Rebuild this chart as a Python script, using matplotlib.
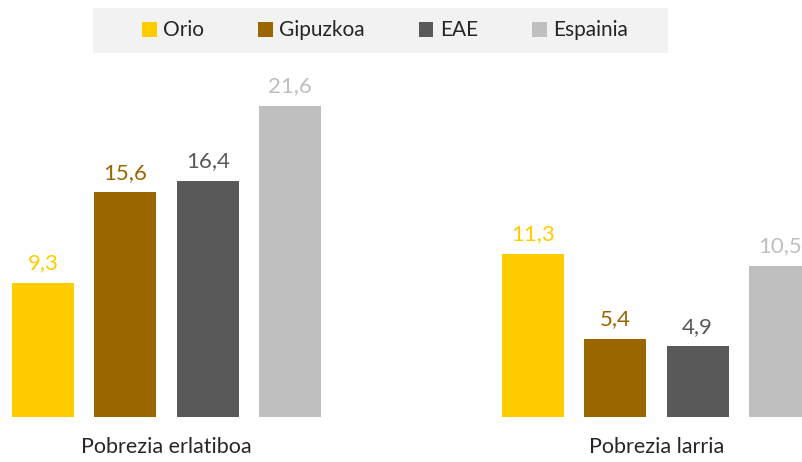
import matplotlib.pyplot as plt
import numpy as np
from matplotlib.patches import Rectangle

categories = ["Pobrezia erlatiboa", "Pobrezia larria"]
series = ["Orio", "Gipuzkoa", "EAE", "Espainia"]
orio = [9.3, 11.3]
gipuzkoa = [15.6, 5.4]
eae = [16.4, 4.9]
espainia = [21.6, 10.5]
colors = ["#FFCC00", "#996600", "#595959", "#BFBFBF"]

plt.rcParams['font.family'] = ['Lato', 'DejaVu Sans']

fig = plt.figure(figsize=(8.03, 4.62), dpi=100)
ax = fig.add_axes([0, 45 / 462, 1, 417 / 462])

x = np.arange(len(categories))
step = 0.168
width = 0.1265
values = [orio, gipuzkoa, eae, espainia]
for i, (name, vals, c) in enumerate(zip(series, values, colors)):
    pos = x + (i - 1.5) * step
    bars = ax.bar(pos, vals, width, color=c, label=name)
    for b, v in zip(bars, vals):
        ax.annotate(f"{v:.1f}".replace(".", ","),
                    (b.get_x() + b.get_width() / 2, v),
                    xytext=(0, 7), textcoords="offset points",
                    ha="center", va="bottom", fontsize=16, color=c)

ax.set_xlim(-0.34, 1.299)
ax.set_ylim(0, 417 / 14.4)
ax.axis("off")

for xi, cat in zip(x, categories):
    fig.text((xi + 0.34) / 1.639, 1 - 447 / 462, cat, ha="center", va="center",
             fontsize=15.5, color="#262626")

fig.patches.append(Rectangle((93 / 803, 1 - 53 / 462), 575 / 803, 45 / 462,
                             transform=fig.transFigure, facecolor="#F2F2F2",
                             edgecolor="none", zorder=0))
fig.legend(loc="center", bbox_to_anchor=(385 / 803, 1 - 30.5 / 462), ncol=4,
           frameon=False, fontsize=15, handlelength=0.7, handleheight=0.7,
           handletextpad=0.3, columnspacing=2.6, labelcolor="#262626")

plt.savefig("out.png", dpi=100)
